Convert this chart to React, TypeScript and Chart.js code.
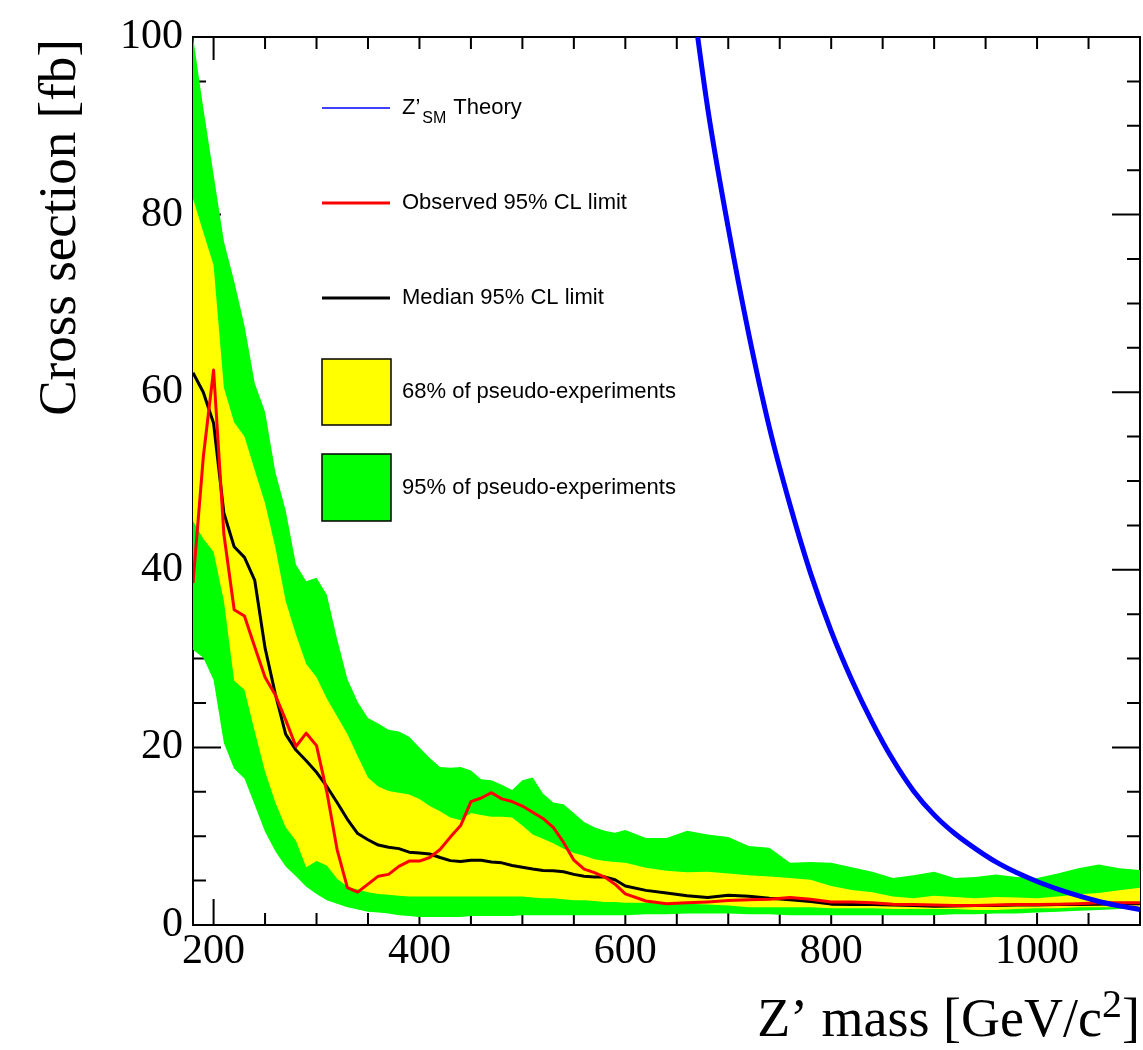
import React, { useEffect, useRef } from 'react';
import { Chart, registerables } from 'chart.js';

Chart.register(...registerables);

// Z' mass points [GeV/c^2]
const masses = [
  180, 190, 200, 210, 220, 230, 240, 250, 260, 270,
  280, 290, 300, 310, 320, 330, 340, 350, 360, 370,
  380, 390, 400, 410, 420, 430, 440, 450, 460, 470,
  480, 490, 500, 510, 520, 530, 540, 550, 560, 570,
  580, 590, 600,
  620, 640, 660, 680, 700, 720, 740, 760, 780, 800,
  820, 840, 860, 880, 900, 920, 940, 960, 980, 1000,
  1020, 1040, 1060, 1080, 1100,
];

// 95% band upper edge [fb]
const band95Up = [
  100, 92, 84.5, 77, 72.5, 67.5, 61, 57.8, 51, 46.7,
  40.6, 38.7, 39.1, 37.2, 32.2, 27.7, 25.1, 23.3, 22.7, 22.0,
  21.8, 21.2, 20.0, 18.8, 17.8, 17.7, 17.8, 17.4, 16.4, 16.3,
  15.8, 15.2, 16.3, 16.6, 14.8, 13.8, 13.6, 12.6, 11.6, 11.0,
  10.6, 10.4, 10.7,
  9.8, 9.8, 10.6, 10.2, 9.9, 8.9, 8.7, 7.0, 7.1, 7.0,
  6.5, 6.0, 5.3, 5.6, 6.0, 5.3, 5.4, 5.7, 5.4, 5.3,
  5.8, 6.4, 6.8, 6.4, 6.2,
];

// 95% band lower edge [fb]
const band95Down = [
  31, 30.1, 27.6, 20.5, 17.6, 16.5, 13.5, 10.5, 8.3, 6.6,
  5.5, 4.3, 3.5, 2.8, 2.4, 2.0, 1.75, 1.5, 1.4, 1.3,
  1.1, 1.0, 0.9, 0.9, 0.9, 0.9, 0.9, 1.0, 1.0, 1.0,
  1.0, 1.0, 1.1, 1.1, 1.1, 1.1, 1.1, 1.1, 1.1, 1.1,
  1.1, 1.1, 1.1,
  1.2, 1.2, 1.3, 1.3, 1.3, 1.2, 1.2, 1.1, 1.1, 1.1,
  1.1, 1.1, 1.1, 1.1, 1.1, 1.2, 1.2, 1.3, 1.3, 1.4,
  1.5, 1.6, 1.7, 1.8, 2.0,
];

// 68% band upper edge [fb]
const band68Up = [
  81.8, 78, 74.3, 60.5, 56.6, 55, 51.2, 47.5, 42.5, 36.5,
  32.7, 29.4, 27.9, 25.5, 23.5, 21.5, 19, 16.6, 15.6, 15.1,
  14.9, 14.7, 14.2, 13.4, 12.8, 12.1, 11.8, 12.6, 12.4, 12.2,
  12.2, 12.1, 11.2, 10.2, 9.7, 9.2, 8.6, 8.1, 7.8, 7.4,
  7.2, 7.1, 7.0,
  6.45, 6.1, 5.95, 6.0, 5.8, 5.6, 5.45, 5.3, 5.1, 4.4,
  3.95, 3.7, 3.2, 3.0, 3.3, 3.15, 3.0, 3.15, 3.1, 3.0,
  3.2, 3.45, 3.6, 3.9, 4.2,
];

// 68% band lower edge [fb]
const band68Down = [
  45.5, 43.5, 42, 36.5, 27.5, 26.5, 21.8, 17.3, 13.8, 11,
  9.5, 6.5, 7.2, 6.7, 5.2, 4.3, 4.0, 3.7, 3.5, 3.4,
  3.3, 3.2, 3.2, 3.2, 3.2, 3.2, 3.2, 3.2, 3.2, 3.2,
  3.2, 3.2, 3.2, 3.1, 3.0, 3.0, 2.9, 2.8, 2.8, 2.7,
  2.6, 2.6, 2.5,
  2.5, 2.4, 2.4, 2.3, 2.2, 2.0, 2.0, 2.0, 2.0, 1.9,
  1.9, 1.9, 1.8, 1.8, 1.8, 1.8, 1.7, 1.7, 1.8, 1.9,
  1.9, 2.0, 2.0, 2.0, 2.0,
];

// Median expected 95% CL limit [fb]
const medianLimit = [
  62.2, 60.0, 56.5, 46.4, 42.6, 41.4, 38.8, 31.2, 26.0, 21.5,
  19.7, 18.5, 17.2, 15.6, 13.8, 11.9, 10.3, 9.6, 9.0, 8.75,
  8.6, 8.2, 8.1, 8.0, 7.6, 7.25, 7.15, 7.3, 7.3, 7.1,
  7.0, 6.7, 6.5, 6.3, 6.15, 6.1, 6.0, 5.7, 5.5, 5.4,
  5.4, 5.1, 4.4,
  3.9, 3.6, 3.3, 3.1, 3.35, 3.25, 3.0, 2.85, 2.65, 2.35,
  2.3, 2.3, 2.25, 2.2, 2.1, 2.15, 2.2, 2.2, 2.25, 2.25,
  2.3, 2.3, 2.35, 2.4, 2.4,
];

// Observed 95% CL limit [fb]
const observedLimit = [
  38.5, 52.7, 62.5, 44, 35.5, 34.8, 31.3, 27.9, 25.9, 23.1,
  20.1, 21.6, 20.2, 15.0, 8.5, 4.2, 3.7, 4.6, 5.5, 5.7,
  6.6, 7.2, 7.2, 7.6, 8.5, 9.9, 11.2, 13.9, 14.3, 14.9,
  14.2, 13.9, 13.4, 12.7, 12.0, 11.0, 9.3, 7.3, 6.3, 5.9,
  5.4, 4.6, 3.5,
  2.7, 2.4, 2.5, 2.6, 2.75, 2.85, 2.9, 3.1, 2.9, 2.6,
  2.6, 2.5, 2.35, 2.3, 2.25, 2.2, 2.2, 2.25, 2.3, 2.3,
  2.35, 2.4, 2.5, 2.5, 2.5,
];

// Z'_SM theory cross section
const theoryMasses = [
  660, 680, 700, 720, 740, 760, 780, 800, 820, 840, 860, 880,
  900, 920, 940, 960, 980, 1000, 1020, 1040, 1060, 1080, 1100,
];
const theoryXsec = [
  109, 92, 78.5, 66.5, 56, 47.3, 39.6, 33.1, 27.6, 22.8, 18.6, 15.1,
  12.4, 10.3, 8.6, 7.1, 5.9, 4.9, 4.05, 3.3, 2.65, 2.15, 1.75,
];

const xTickLabels = [200, 400, 600, 800, 1000];
const yTickLabels = [0, 20, 40, 60, 80, 100];

const legendItems = [
  'Theory',
  'Observed 95% CL limit',
  'Median 95% CL limit',
  '68% of pseudo-experiments',
  '95% of pseudo-experiments',
];

const SERIF = "'Liberation Serif', 'Times New Roman', serif";
const SANS = "'Liberation Sans', Arial, sans-serif";

const pts = (xs: number[], ys: number[]) => xs.map((x, i) => ({ x, y: ys[i] }));

const framePlugin = {
  id: 'frame',
  beforeDatasetsDraw(chart: any) {
    const { ctx, chartArea: a, scales } = chart;
    const x = scales.x;
    const y = scales.y;
    ctx.save();
    ctx.strokeStyle = '#000';
    ctx.lineWidth = 2;
    ctx.beginPath();
    for (let v = 200; v <= 1100; v += 50) {
      const px = x.getPixelForValue(v);
      const major = v === 200;
      ctx.moveTo(px, a.bottom);
      ctx.lineTo(px, a.bottom - (major ? 26 : 12));
      ctx.moveTo(px, a.top);
      ctx.lineTo(px, a.top + (major ? 23 : 12));
    }
    for (let v = 5; v < 100; v += 5) {
      const py = y.getPixelForValue(v);
      const len = v % 20 === 0 ? 28 : 13;
      ctx.moveTo(a.left, py);
      ctx.lineTo(a.left + len, py);
      ctx.moveTo(a.right, py);
      ctx.lineTo(a.right - len, py);
    }
    ctx.stroke();
    ctx.strokeRect(a.left, a.top, a.right - a.left, a.bottom - a.top);
    ctx.restore();
  },
};

const decorPlugin = {
  id: 'decor',
  afterDraw(chart: any) {
    const { ctx, chartArea: a } = chart;
    ctx.save();
    ctx.fillStyle = '#000';

    // Y title
    ctx.save();
    ctx.translate(75, a.top + 2);
    ctx.rotate(-Math.PI / 2);
    ctx.font = `53px ${SERIF}`;
    ctx.textAlign = 'right';
    ctx.textBaseline = 'alphabetic';
    ctx.fillText('Cross section [fb]', 0, 0);
    ctx.restore();

    // X title with superscript
    ctx.textBaseline = 'alphabetic';
    ctx.textAlign = 'right';
    ctx.font = `54px ${SERIF}`;
    const xr = a.right;
    ctx.fillText(']', xr, 1036);
    const wB = ctx.measureText(']').width;
    ctx.font = `40px ${SERIF}`;
    ctx.fillText('2', xr - wB, 1017);
    const w2 = ctx.measureText('2').width;
    ctx.font = `54px ${SERIF}`;
    ctx.fillText('Z\u2019 mass [GeV/c', xr - wB - w2, 1036);

    // Legend
    const lx0 = 322;
    const lx1 = 390;
    const tx = 402;
    ctx.lineCap = 'butt';
    ctx.strokeStyle = '#0000ff';
    ctx.lineWidth = 1.5;
    ctx.beginPath();
    ctx.moveTo(lx0, 108);
    ctx.lineTo(lx1, 108);
    ctx.stroke();
    ctx.strokeStyle = '#ff0000';
    ctx.lineWidth = 3;
    ctx.beginPath();
    ctx.moveTo(lx0, 203);
    ctx.lineTo(lx1, 203);
    ctx.stroke();
    ctx.strokeStyle = '#000';
    ctx.beginPath();
    ctx.moveTo(lx0, 298);
    ctx.lineTo(lx1, 298);
    ctx.stroke();

    ctx.lineWidth = 1.5;
    ctx.fillStyle = '#ffff00';
    ctx.fillRect(lx0, 359, 69, 66);
    ctx.strokeRect(lx0, 359, 69, 66);
    ctx.fillStyle = '#00ff00';
    ctx.fillRect(lx0, 454, 69, 67);
    ctx.strokeRect(lx0, 454, 69, 67);

    ctx.fillStyle = '#000';
    ctx.textAlign = 'left';
    ctx.textBaseline = 'middle';
    ctx.font = `22px ${SANS}`;
    ctx.fillText('Z\u2019', tx, 108);
    const wZ = ctx.measureText('Z\u2019').width;
    ctx.font = `16px ${SANS}`;
    ctx.textBaseline = 'alphabetic';
    ctx.fillText('SM', tx + wZ + 2, 123);
    const wSM = ctx.measureText('SM').width;
    ctx.font = `22px ${SANS}`;
    ctx.textBaseline = 'middle';
    ctx.fillText(legendItems[0], tx + wZ + 2 + wSM + 7, 108);
    ctx.fillText(legendItems[1], tx, 203);
    ctx.fillText(legendItems[2], tx, 298);
    ctx.fillText(legendItems[3], tx, 392);
    ctx.fillText(legendItems[4], tx, 488);
    ctx.restore();
  },
};

export default function App() {
  const ref = useRef<HTMLCanvasElement>(null);

  useEffect(() => {
    if (!ref.current) return;
    const band = { borderWidth: 0, borderColor: 'rgba(0,0,0,0)', pointRadius: 0, tension: 0 };
    const chart = new Chart(ref.current, {
      type: 'line',
      data: {
        datasets: [
          { ...band, label: '95% up', data: pts(masses, band95Up), backgroundColor: '#00ff00', fill: 1, order: 10 },
          { ...band, label: '95% down', data: pts(masses, band95Down), fill: false, order: 9 },
          { ...band, label: '68% up', data: pts(masses, band68Up), backgroundColor: '#ffff00', fill: 3, order: 8 },
          { ...band, label: '68% down', data: pts(masses, band68Down), fill: false, order: 7 },
          {
            label: 'Median 95% CL limit', data: pts(masses, medianLimit), borderColor: '#000000',
            borderWidth: 3, pointRadius: 0, fill: false, order: 3, borderJoinStyle: 'round',
          },
          {
            label: 'Observed 95% CL limit', data: pts(masses, observedLimit), borderColor: '#ff0000',
            borderWidth: 3, pointRadius: 0, fill: false, order: 2, borderJoinStyle: 'round',
          },
          {
            label: "Z'SM Theory", data: pts(theoryMasses, theoryXsec), borderColor: '#0000ff',
            borderWidth: 5, pointRadius: 0, fill: false, order: 1, cubicInterpolationMode: 'monotone',
          },
        ],
      } as any,
      options: {
        animation: false,
        responsive: false,
        devicePixelRatio: 1,
        layout: { padding: { top: 37, right: 3, left: 0, bottom: 0 } },
        plugins: { legend: { display: false }, tooltip: { enabled: false } },
        scales: {
          x: {
            type: 'linear',
            min: 180,
            max: 1100,
            grid: { display: false, drawTicks: false },
            border: { display: false },
            afterBuildTicks: (s: any) => { s.ticks = xTickLabels.map((value) => ({ value })); },
            afterFit: (s: any) => { s.height = 125; },
            ticks: {
              autoSkip: false,
              maxRotation: 0,
              padding: 2,
              color: '#000',
              font: { family: SERIF, size: 42 },
              callback: (v: any) => String(v),
            },
          },
          y: {
            type: 'linear',
            min: 0,
            max: 100,
            grid: { display: false, drawTicks: false },
            border: { display: false },
            afterBuildTicks: (s: any) => { s.ticks = yTickLabels.map((value) => ({ value })); },
            afterFit: (s: any) => { s.width = 193; },
            ticks: {
              autoSkip: false,
              padding: 10,
              color: '#000',
              font: { family: SERIF, size: 42 },
              callback: (v: any) => String(v),
            },
          },
        },
      } as any,
      plugins: [framePlugin, decorPlugin],
    });
    return () => chart.destroy();
  }, []);

  return (
    <div style={{ position: 'absolute', left: 0, top: 0, width: 1143, height: 1050, background: '#fff' }}>
      <canvas ref={ref} width={1143} height={1050} style={{ display: 'block', width: 1143, height: 1050 }} />
    </div>
  );
}
